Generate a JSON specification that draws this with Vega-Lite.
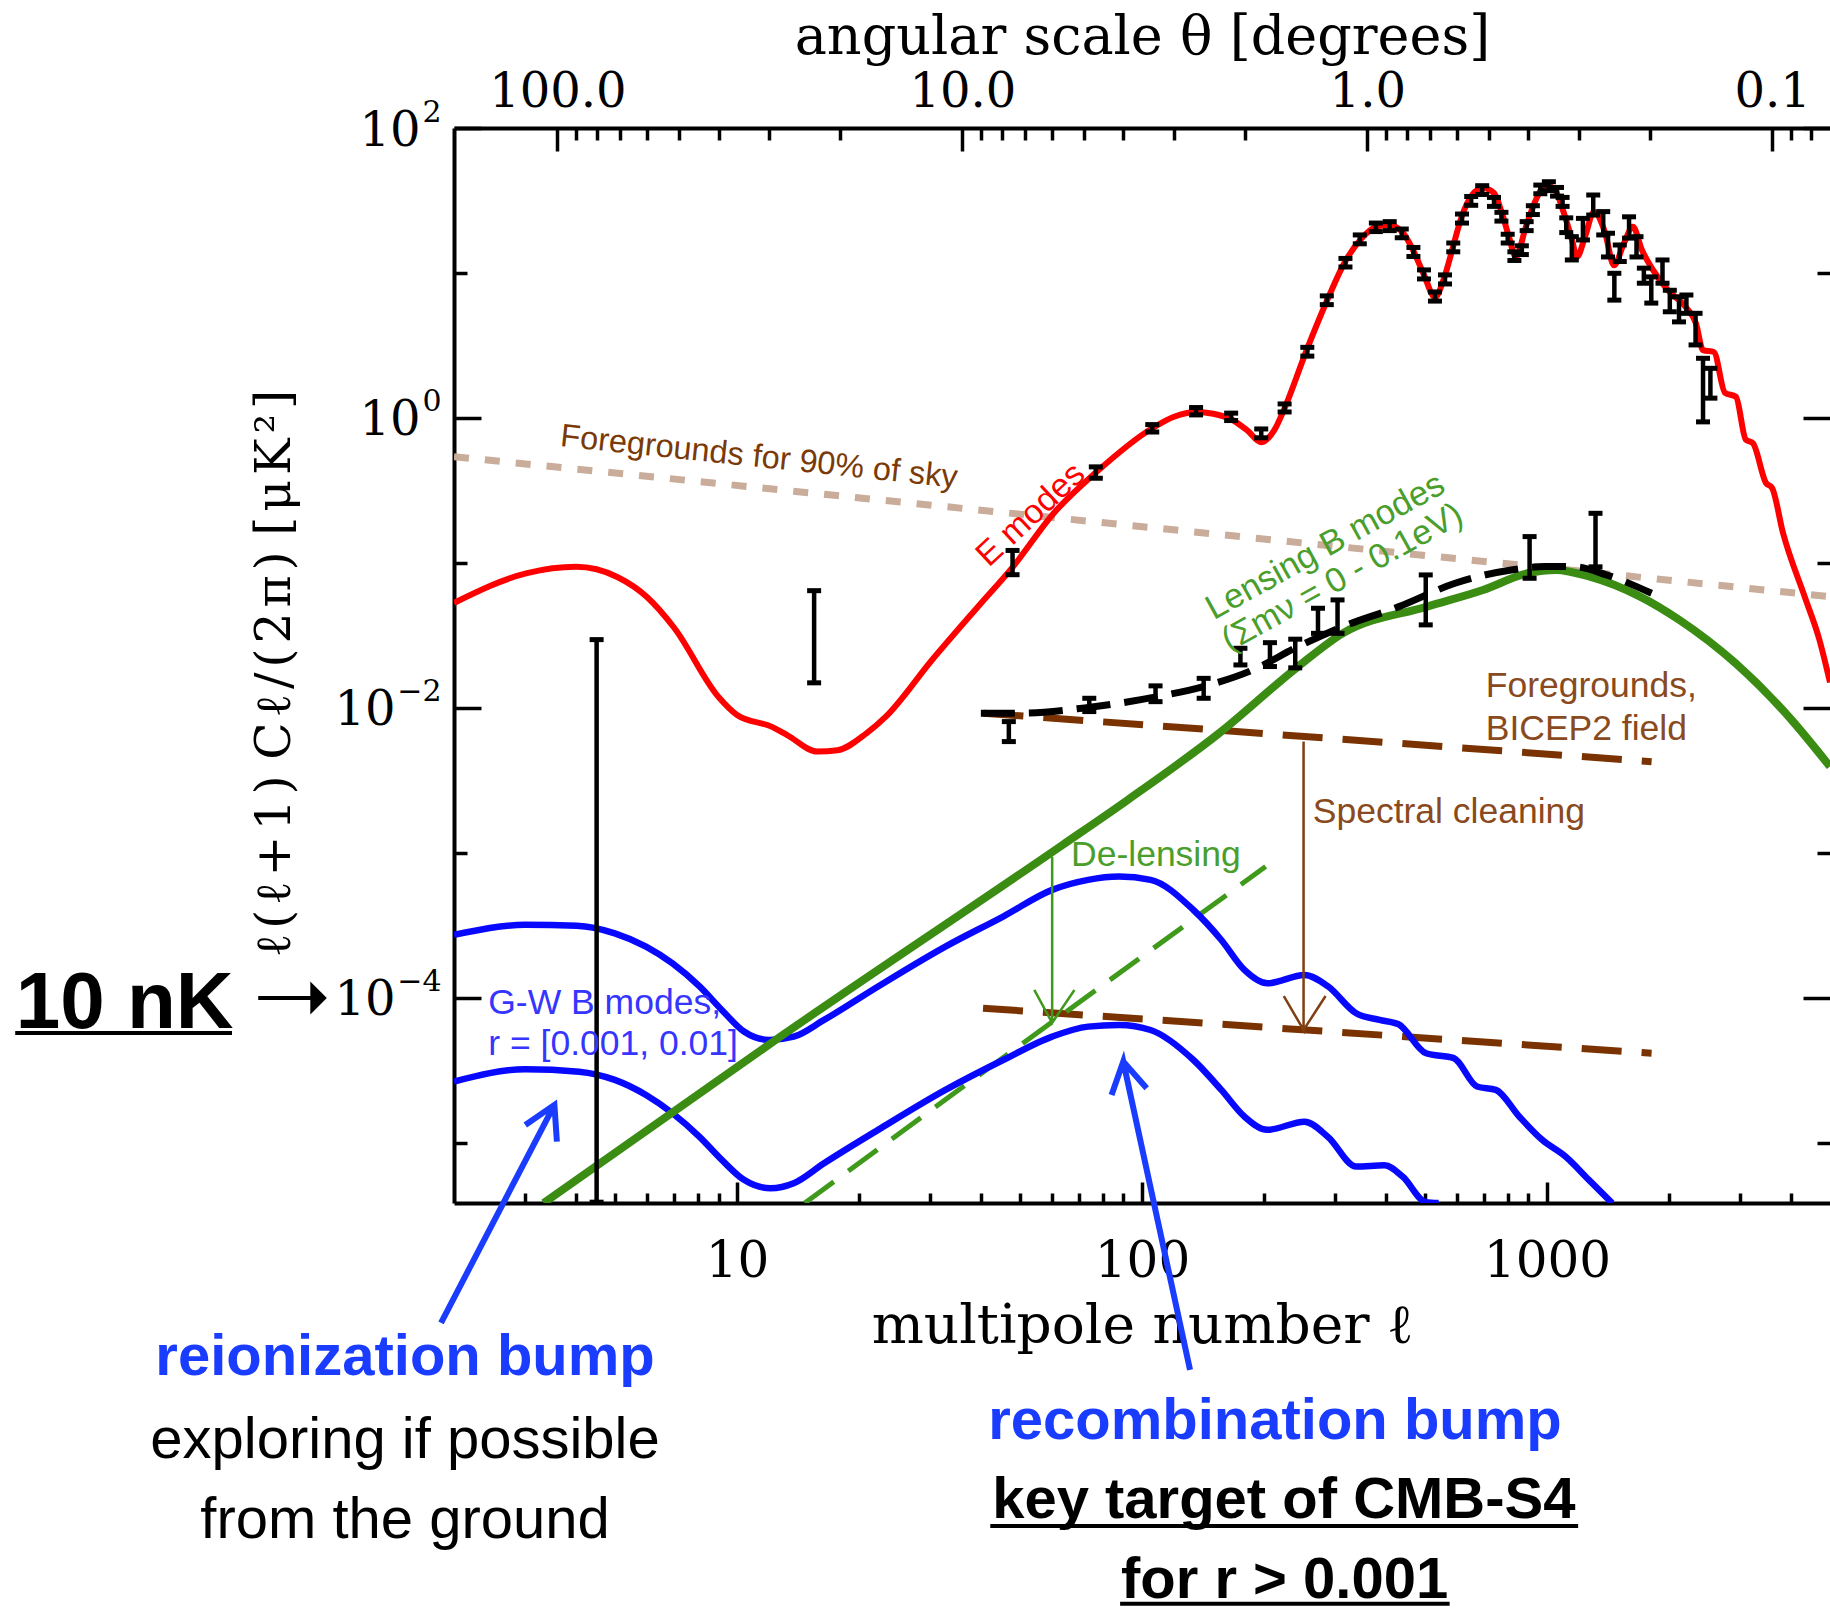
{
"$schema":"https://vega.github.io/schema/vega-lite/v6.json",
"width":1376,"height":1075,
"autosize":{"type":"none"},
"padding":{"left":454,"top":128,"right":0,"bottom":406},
"background":"white",
"config":{"view":{"stroke":null},"axis":{"grid":false}},
"datasets":{
"err":[
{"l":4.5,"lo":3.9e-6,"hi":0.0296},{"l":15.5,"lo":0.0149,"hi":0.0644},{"l":47.9,"lo":0.083,"hi":0.122},{"l":76.9,"lo":0.384,"hi":0.46},
{"l":106,"lo":0.8,"hi":0.9},{"l":136,"lo":1.05,"hi":1.18},{"l":166,"lo":0.96,"hi":1.08},{"l":197,"lo":0.73,"hi":0.84},{"l":225,"lo":1.1,"hi":1.25},
{"l":256,"lo":2.67,"hi":3.07},{"l":286,"lo":6.05,"hi":6.95},{"l":318,"lo":11.0,"hi":12.6},{"l":345,"lo":15.9,"hi":18.3},{"l":378,"lo":19.3,"hi":22.1},
{"l":409,"lo":19.6,"hi":22.6},{"l":438,"lo":17.5,"hi":20.1},{"l":468,"lo":13.0,"hi":15.0},{"l":497,"lo":9.1,"hi":10.5},{"l":529,"lo":6.4,"hi":7.4},
{"l":560,"lo":8.4,"hi":9.7},{"l":587,"lo":14.0,"hi":16.1},{"l":617,"lo":22.1,"hi":25.5},{"l":650,"lo":29.3,"hi":33.7},{"l":692,"lo":34.8,"hi":40.0},
{"l":740,"lo":28.8,"hi":33.2},{"l":772,"lo":22.8,"hi":26.2},{"l":800,"lo":16.1,"hi":18.5},{"l":831,"lo":12.2,"hi":14.0},{"l":867,"lo":13.4,"hi":15.4},
{"l":891,"lo":19.6,"hi":22.6},{"l":923,"lo":25.3,"hi":29.1},{"l":963,"lo":35.2,"hi":40.4},{"l":1011,"lo":37.0,"hi":42.6},{"l":1059,"lo":33.9,"hi":38.9},
{"l":1093,"lo":28.8,"hi":33.2},{"l":1116,"lo":19.0,"hi":24.0},{"l":1152,"lo":12.3,"hi":17.8},{"l":1227,"lo":16.9,"hi":23.8},{"l":1301,"lo":25.1,"hi":34.5},
{"l":1377,"lo":18.3,"hi":26.5},{"l":1415,"lo":12.9,"hi":18.8},{"l":1467,"lo":6.5,"hi":9.95},{"l":1513,"lo":12.0,"hi":15.6},{"l":1595,"lo":17.4,"hi":24.4},
{"l":1664,"lo":12.9,"hi":17.8},{"l":1735,"lo":8.5,"hi":10.8},{"l":1810,"lo":6.2,"hi":9.4},{"l":1929,"lo":8.5,"hi":12.3},{"l":2011,"lo":5.4,"hi":7.6},
{"l":2119,"lo":4.6,"hi":6.85},{"l":2210,"lo":5.27,"hi":7.05},{"l":2328,"lo":3.19,"hi":5.27},{"l":2429,"lo":0.94,"hi":2.58},{"l":2533,"lo":1.37,"hi":2.2},
{"l":46.9,"lo":0.00586,"hi":0.00805},{"l":74.1,"lo":0.00944,"hi":0.01166},{"l":108,"lo":0.01105,"hi":0.0142},{"l":142,"lo":0.01166,"hi":0.016},
{"l":175,"lo":0.0198,"hi":0.0258},{"l":207,"lo":0.0193,"hi":0.0282},{"l":239,"lo":0.0189,"hi":0.0298},{"l":272,"lo":0.0327,"hi":0.0487},
{"l":304,"lo":0.0327,"hi":0.0556},{"l":502,"lo":0.0374,"hi":0.0827},{"l":906,"lo":0.0784,"hi":0.152},{"l":1318,"lo":0.094,"hi":0.22}
]
},
"resolve":{"scale":{"x":"independent","y":"independent"},"axis":{"x":"independent","y":"independent"}},
"layer":[
{"layer":[
{"data":{"values":[{"l":2,"c":0.541},{"l":5000,"c":0.0586}]},
 "mark":{"type":"line","color":"#c9ac99","strokeWidth":7,"strokeDash":[15,16],"clip":true},
 "encoding":{"x":{"field":"l","type":"quantitative","scale":{"type":"log","domain":[2,5000],"nice":false},"axis":null},
  "y":{"field":"c","type":"quantitative","scale":{"type":"log","domain":[3.85e-6,100],"nice":false},"axis":null}}},
{"data":{"values":[{"g":"u","l":40.6,"c":0.0092},{"g":"u","l":1813,"c":0.00426},{"g":"d","l":40.5,"c":8.49e-5},{"g":"d","l":1813,"c":4.15e-5}]},
 "mark":{"type":"line","color":"#7a3300","strokeWidth":7,"strokeDash":[40,20],"clip":true},
 "encoding":{"x":{"field":"l","type":"quantitative","scale":{"type":"log","domain":[2,5000],"nice":false},"axis":null},
  "y":{"field":"c","type":"quantitative","scale":{"type":"log","domain":[3.85e-6,100],"nice":false},"axis":null},"detail":{"field":"g"}}},
{"data":{"values":[{"l":14.7,"c":3.85e-6},{"l":33.5,"c":2.09e-5},{"l":202,"c":0.000805}]},
 "mark":{"type":"line","color":"#3f9a1c","strokeWidth":5,"strokeDash":[36,18],"clip":true},
 "encoding":{"x":{"field":"l","type":"quantitative","scale":{"type":"log","domain":[2,5000],"nice":false},"axis":null},
  "y":{"field":"c","type":"quantitative","scale":{"type":"log","domain":[3.85e-6,100],"nice":false},"axis":null}}},
{"data":{"values":[
 {"g":"a","l":2,"c":2.72e-4},{"g":"a","l":3,"c":3.19e-4},{"g":"a","l":4.02,"c":3.15e-4},{"g":"a","l":4.99,"c":2.79e-4},{"g":"a","l":5.96,"c":2.26e-4},{"g":"a","l":6.93,"c":1.73e-4},{"g":"a","l":8.08,"c":1.2e-4},{"g":"a","l":9.17,"c":8.26e-5},{"g":"a","l":10.4,"c":5.86e-5},{"g":"a","l":12,"c":5.13e-5},{"g":"a","l":13.8,"c":5.4e-5},{"g":"a","l":16.4,"c":7.05e-5},{"g":"a","l":22.3,"c":1.2e-4},{"g":"a","l":32.7,"c":2.26e-4},{"g":"a","l":45.4,"c":3.64e-4},{"g":"a","l":60,"c":5.56e-4},{"g":"a","l":73.6,"c":6.52e-4},{"g":"a","l":87.8,"c":6.87e-4},{"g":"a","l":105,"c":6.52e-4},{"g":"a","l":134,"c":4.04e-4},{"g":"a","l":157,"c":2.51e-4},{"g":"a","l":179,"c":1.56e-4},{"g":"a","l":204,"c":1.26e-4},{"g":"a","l":252,"c":1.44e-4},{"g":"a","l":288,"c":1.2e-4},{"g":"a","l":338,"c":7.84e-5},{"g":"a","l":386,"c":7.05e-5},{"g":"a","l":429,"c":6.6e-5},{"g":"a","l":503,"c":4.15e-5},{"g":"a","l":589,"c":3.84e-5},{"g":"a","l":672,"c":2.45e-5},{"g":"a","l":748,"c":2.32e-5},{"g":"a","l":854,"c":1.52e-5},{"g":"a","l":973,"c":1.05e-5},{"g":"a","l":1111,"c":8.05e-6},{"g":"a","l":1269,"c":5.56e-6},{"g":"a","l":1449,"c":3.84e-6},
 {"g":"b","l":2,"c":2.65e-5},{"g":"b","l":3,"c":3.22e-5},{"g":"b","l":4.07,"c":3.1e-5},{"g":"b","l":4.99,"c":2.72e-5},{"g":"b","l":5.96,"c":2.14e-5},{"g":"b","l":6.93,"c":1.6e-5},{"g":"b","l":8.08,"c":1.1e-5},{"g":"b","l":9.17,"c":7.63e-6},{"g":"b","l":10.4,"c":5.56e-6},{"g":"b","l":12.1,"c":4.87e-6},{"g":"b","l":13.8,"c":5.27e-6},{"g":"b","l":16.4,"c":7.24e-6},{"g":"b","l":22.3,"c":1.23e-5},{"g":"b","l":32.7,"c":2.32e-5},{"g":"b","l":45.4,"c":3.73e-5},{"g":"b","l":60,"c":5.41e-5},{"g":"b","l":73.6,"c":6.34e-5},{"g":"b","l":87.8,"c":6.51e-5},{"g":"b","l":105,"c":6.01e-5},{"g":"b","l":134,"c":3.73e-5},{"g":"b","l":157,"c":2.32e-5},{"g":"b","l":179,"c":1.52e-5},{"g":"b","l":204,"c":1.23e-5},{"g":"b","l":252,"c":1.4e-5},{"g":"b","l":288,"c":1.1e-5},{"g":"b","l":338,"c":6.87e-6},{"g":"b","l":397,"c":7.0e-6},{"g":"b","l":440,"c":5.86e-6},{"g":"b","l":503,"c":3.9e-6},{"g":"b","l":540,"c":3.85e-6}
 ]},
 "mark":{"type":"line","color":"#0808ff","strokeWidth":6.5,"interpolate":"monotone","clip":true},
 "encoding":{"x":{"field":"l","type":"quantitative","scale":{"type":"log","domain":[2,5000],"nice":false},"axis":null},
  "y":{"field":"c","type":"quantitative","scale":{"type":"log","domain":[3.85e-6,100],"nice":false},"axis":null},"detail":{"field":"g"}}},
{"data":{"values":[{"l":3.33,"c":3.85e-6},{"l":12.45,"c":5.13e-5},{"l":63.5,"c":0.00113},{"l":92.2,"c":0.00232},{"l":155,"c":0.00669},{"l":243,"c":0.0193},{"l":313,"c":0.0327},{"l":506,"c":0.05},{"l":695,"c":0.0651},{"l":897,"c":0.0849},{"l":1052,"c":0.0895},{"l":1276,"c":0.0805},{"l":1699,"c":0.0586},{"l":2124,"c":0.0404},{"l":2923,"c":0.0203},{"l":4020,"c":0.00826},{"l":5000,"c":0.00394}]},
 "mark":{"type":"line","color":"#3a8c12","strokeWidth":8,"interpolate":"monotone","clip":true},
 "encoding":{"x":{"field":"l","type":"quantitative","scale":{"type":"log","domain":[2,5000],"nice":false},"axis":null},
  "y":{"field":"c","type":"quantitative","scale":{"type":"log","domain":[3.85e-6,100],"nice":false},"axis":null}}},
{"data":{"values":[{"l":2,"c":0.053},{"l":3.03,"c":0.085},{"l":4,"c":0.094},{"l":5.06,"c":0.08},{"l":6,"c":0.058},{"l":7,"c":0.0356},{"l":9,"c":0.0119},{"l":10,"c":0.00895},{"l":12.2,"c":0.0074},{"l":13.3,"c":0.0065},{"l":15.8,"c":0.005},{"l":17.7,"c":0.0051},{"l":20.9,"c":0.0067},{"l":23.3,"c":0.0087},{"l":30.3,"c":0.0214},{"l":39.3,"c":0.0497},{"l":48,"c":0.094},{"l":60.6,"c":0.221},{"l":76.9,"c":0.42},{"l":106,"c":0.85},{"l":120,"c":1.02},{"l":136,"c":1.1},{"l":150,"c":1.07},{"l":166,"c":0.98},{"l":182,"c":0.82},{"l":197,"c":0.68},{"l":212,"c":0.82},{"l":225,"c":1.17},{"l":255,"c":2.94},{"l":288,"c":6.7},{"l":317,"c":11.9},{"l":347,"c":17.1},{"l":378,"c":20.8},{"l":407,"c":21.4},{"l":439,"c":19.2},{"l":467,"c":14.4},{"l":497,"c":9.7},{"l":529,"c":6.8},{"l":557,"c":9.2},{"l":586,"c":15.1},{"l":614,"c":23.9},{"l":653,"c":34.5},{"l":695,"c":38.6},{"l":740,"c":35.6},{"l":774,"c":25.9},{"l":806,"c":17.7},{"l":838,"c":12.9},{"l":887,"c":20.8},{"l":934,"c":30.9},{"l":994,"c":40.4},{"l":1047,"c":37.3},{"l":1101,"c":25.9},{"l":1153,"c":16.9},{"l":1186,"c":12.9},{"l":1241,"c":17.7},{"l":1306,"c":26.3},{"l":1390,"c":19.2},{"l":1464,"c":11.3},{"l":1549,"c":16},{"l":1630,"c":20.8},{"l":1716,"c":14.4},{"l":1827,"c":10.5},{"l":1990,"c":7.6},{"l":2204,"c":5.8},{"l":2333,"c":4.5},{"l":2428,"c":2.94},{"l":2583,"c":2.85},{"l":2752,"c":1.49},{"l":2929,"c":1.4},{"l":3097,"c":0.71},{"l":3226,"c":0.67},{"l":3475,"c":0.356},{"l":3596,"c":0.33},{"l":3828,"c":0.161},{"l":4335,"c":0.058},{"l":4700,"c":0.03},{"l":5000,"c":0.015}]},
 "mark":{"type":"line","color":"#ff0000","strokeWidth":6,"interpolate":"monotone","clip":true},
 "encoding":{"x":{"field":"l","type":"quantitative","scale":{"type":"log","domain":[2,5000],"nice":false},"axis":null},
  "y":{"field":"c","type":"quantitative","scale":{"type":"log","domain":[3.85e-6,100],"nice":false},"axis":null}}},
{"data":{"values":[{"l":40,"c":0.0092},{"l":50.8,"c":0.0092},{"l":72.2,"c":0.01},{"l":109,"c":0.01197},{"l":141,"c":0.014},{"l":188,"c":0.0183},{"l":243,"c":0.0265},{"l":313,"c":0.0364},{"l":431,"c":0.05},{"l":593,"c":0.0724},{"l":816,"c":0.0895},{"l":989,"c":0.0944},{"l":1159,"c":0.0944},{"l":1403,"c":0.0827},{"l":1813,"c":0.0618}]},
 "mark":{"type":"line","color":"black","strokeWidth":7,"strokeDash":[34,14],"interpolate":"monotone","clip":true},
 "encoding":{"x":{"field":"l","type":"quantitative","scale":{"type":"log","domain":[2,5000],"nice":false},"axis":null},
  "y":{"field":"c","type":"quantitative","scale":{"type":"log","domain":[3.85e-6,100],"nice":false},"axis":null}}},
{"data":{"name":"err"},
 "mark":{"type":"rule","color":"black","strokeWidth":4.5,"clip":true},
 "encoding":{"x":{"field":"l","type":"quantitative","scale":{"type":"log","domain":[2,5000],"nice":false},"axis":null},
  "y":{"field":"lo","type":"quantitative","scale":{"type":"log","domain":[3.85e-6,100],"nice":false},"axis":null},"y2":{"field":"hi"}}},
{"data":{"name":"err"},
 "mark":{"type":"point","shape":"stroke","size":196,"strokeWidth":5,"color":"black","filled":false,"opacity":1,"clip":true},
 "encoding":{"x":{"field":"l","type":"quantitative","scale":{"type":"log","domain":[2,5000],"nice":false},"axis":null},
  "y":{"field":"lo","type":"quantitative","scale":{"type":"log","domain":[3.85e-6,100],"nice":false},"axis":null}}},
{"data":{"name":"err"},
 "mark":{"type":"point","shape":"stroke","size":196,"strokeWidth":5,"color":"black","filled":false,"opacity":1,"clip":true},
 "encoding":{"x":{"field":"l","type":"quantitative","scale":{"type":"log","domain":[2,5000],"nice":false},"axis":null},
  "y":{"field":"hi","type":"quantitative","scale":{"type":"log","domain":[3.85e-6,100],"nice":false},"axis":null}}},
{"data":{"values":[
 {"g":"r","i":0,"l":1.858,"c":5.74e-7},{"g":"r","i":1,"l":3.54,"c":1.83e-5},{"g":"r","i":2,"l":3.0,"c":1.33e-5},{"g":"r","i":3,"l":3.54,"c":1.83e-5},{"g":"r","i":4,"l":3.59,"c":1.02e-5},
 {"g":"k","i":0,"l":131.4,"c":2.72e-7},{"g":"k","i":1,"l":89.9,"c":3.64e-5},{"g":"k","i":2,"l":84.1,"c":2.14e-5},{"g":"k","i":3,"l":89.9,"c":3.64e-5},{"g":"k","i":4,"l":102.7,"c":2.38e-5}]},
 "mark":{"type":"line","color":"#1a3cff","strokeWidth":6},
 "encoding":{"x":{"field":"l","type":"quantitative","scale":{"type":"log","domain":[2,5000],"nice":false},"axis":null},
  "y":{"field":"c","type":"quantitative","scale":{"type":"log","domain":[3.85e-6,100],"nice":false},"axis":null},"detail":{"field":"g"},"order":{"field":"i"}}},
{"data":{"values":[{"i":0,"l":60,"c":0.000942},{"i":1,"l":60,"c":6.73e-5},{"i":2,"l":54.2,"c":0.0001135},{"i":3,"l":60,"c":6.73e-5},{"i":4,"l":68.1,"c":0.0001135}]},
 "mark":{"type":"line","color":"#3f9a1c","strokeWidth":2.5},
 "encoding":{"x":{"field":"l","type":"quantitative","scale":{"type":"log","domain":[2,5000],"nice":false},"axis":null},
  "y":{"field":"c","type":"quantitative","scale":{"type":"log","domain":[3.85e-6,100],"nice":false},"axis":null},"order":{"field":"i"}}},
{"data":{"values":[{"i":0,"l":250.6,"c":0.00586},{"i":1,"l":250.6,"c":6.01e-5},{"i":2,"l":224,"c":0.000103},{"i":3,"l":250.6,"c":6.01e-5},{"i":4,"l":284,"c":0.000103}]},
 "mark":{"type":"line","color":"#7f3f12","strokeWidth":2.5},
 "encoding":{"x":{"field":"l","type":"quantitative","scale":{"type":"log","domain":[2,5000],"nice":false},"axis":null},
  "y":{"field":"c","type":"quantitative","scale":{"type":"log","domain":[3.85e-6,100],"nice":false},"axis":null},"order":{"field":"i"}}},
{"data":{"values":[{"l":0.657,"l2":0.892,"c":0.0001},{"l":0.165,"l2":0.566,"c":5.73e-5},{"l":42.2,"l2":1194,"c":2.28e-8},{"l":88.3,"l2":575,"c":6.62e-9}]},
 "mark":{"type":"rule","color":"black","strokeWidth":4},
 "encoding":{"x":{"field":"l","type":"quantitative","scale":{"type":"log","domain":[2,5000],"nice":false},"axis":null},"x2":{"field":"l2"},
  "y":{"field":"c","type":"quantitative","scale":{"type":"log","domain":[3.85e-6,100],"nice":false},"axis":null}}},
{"data":{"values":[{"l":0.926,"c":0.0001}]},
 "mark":{"type":"point","shape":"M -0.5 -1 L 0.5 0 L -0.5 1 Z","size":1089,"filled":true,"color":"black","opacity":1},
 "encoding":{"x":{"field":"l","type":"quantitative","scale":{"type":"log","domain":[2,5000],"nice":false},"axis":null},
  "y":{"field":"c","type":"quantitative","scale":{"type":"log","domain":[3.85e-6,100],"nice":false},"axis":null}}},
{"data":{"values":[{"txt":"Foregrounds for 90% of sky","l":11.33,"c":0.538}]},
 "mark":{"type":"text","font":"Liberation Sans","fontSize":32.5,"color":"#7a3a08","align":"center","baseline":"middle","angle":6},
 "encoding":{"x":{"field":"l","type":"quantitative","scale":{"type":"log","domain":[2,5000],"nice":false},"axis":null},
  "y":{"field":"c","type":"quantitative","scale":{"type":"log","domain":[3.85e-6,100],"nice":false},"axis":null},"text":{"field":"txt"}}},
{"data":{"values":[{"txt":"E modes","l":53.2,"c":0.214}]},
 "mark":{"type":"text","font":"Liberation Sans","fontSize":34,"color":"#ff0000","align":"center","baseline":"middle","angle":-43},
 "encoding":{"x":{"field":"l","type":"quantitative","scale":{"type":"log","domain":[2,5000],"nice":false},"axis":null},
  "y":{"field":"c","type":"quantitative","scale":{"type":"log","domain":[3.85e-6,100],"nice":false},"axis":null},"text":{"field":"txt"}}},
{"data":{"values":[{"txt":"Lensing B modes","l":284,"c":0.129},{"txt":"(Σmν = 0 - 0.1eV)","l":313,"c":0.0788}]},
 "mark":{"type":"text","font":"Liberation Sans","fontSize":34.5,"color":"#4a9e2c","align":"center","baseline":"middle","angle":-29},
 "encoding":{"x":{"field":"l","type":"quantitative","scale":{"type":"log","domain":[2,5000],"nice":false},"axis":null},
  "y":{"field":"c","type":"quantitative","scale":{"type":"log","domain":[3.85e-6,100],"nice":false},"axis":null},"text":{"field":"txt"}}},
{"data":{"values":[{"txt":"Foregrounds,","l":706,"c":0.0119},{"txt":"BICEP2 field","l":706,"c":0.00601},{"txt":"Spectral cleaning","l":264,"c":0.00161}]},
 "mark":{"type":"text","font":"Liberation Sans","fontSize":35.5,"color":"#8a4a20","align":"left","baseline":"alphabetic"},
 "encoding":{"x":{"field":"l","type":"quantitative","scale":{"type":"log","domain":[2,5000],"nice":false},"axis":null},
  "y":{"field":"c","type":"quantitative","scale":{"type":"log","domain":[3.85e-6,100],"nice":false},"axis":null},"text":{"field":"txt"}}},
{"data":{"values":[{"txt":"De-lensing","l":66.8,"c":0.000813}]},
 "mark":{"type":"text","font":"Liberation Sans","fontSize":35.5,"color":"#4a9e2c","align":"left","baseline":"alphabetic"},
 "encoding":{"x":{"field":"l","type":"quantitative","scale":{"type":"log","domain":[2,5000],"nice":false},"axis":null},
  "y":{"field":"c","type":"quantitative","scale":{"type":"log","domain":[3.85e-6,100],"nice":false},"axis":null},"text":{"field":"txt"}}},
{"data":{"values":[{"txt":"G-W B modes,","l":2.43,"c":7.76e-5},{"txt":"r = [0.001, 0.01]","l":2.43,"c":4.05e-5}]},
 "mark":{"type":"text","font":"Liberation Sans","fontSize":35.5,"color":"#3535ff","align":"left","baseline":"alphabetic"},
 "encoding":{"x":{"field":"l","type":"quantitative","scale":{"type":"log","domain":[2,5000],"nice":false},"axis":null},
  "y":{"field":"c","type":"quantitative","scale":{"type":"log","domain":[3.85e-6,100],"nice":false},"axis":null},"text":{"field":"txt"}}},
{"data":{"values":[{"txt":"10 nK","l":0.3074,"c":6.21e-5}]},
 "mark":{"type":"text","font":"Liberation Sans","fontSize":80,"fontWeight":"bold","color":"black","align":"center","baseline":"alphabetic"},
 "encoding":{"x":{"field":"l","type":"quantitative","scale":{"type":"log","domain":[2,5000],"nice":false},"axis":null},
  "y":{"field":"c","type":"quantitative","scale":{"type":"log","domain":[3.85e-6,100],"nice":false},"axis":null},"text":{"field":"txt"}}},
{"data":{"values":[{"txt":"reionization bump","l":1.514,"c":2.51e-7},{"txt":"recombination bump","l":213,"c":9.1e-8}]},
 "mark":{"type":"text","font":"Liberation Sans","fontSize":58,"fontWeight":"bold","color":"#1a3cff","align":"center","baseline":"alphabetic"},
 "encoding":{"x":{"field":"l","type":"quantitative","scale":{"type":"log","domain":[2,5000],"nice":false},"axis":null},
  "y":{"field":"c","type":"quantitative","scale":{"type":"log","domain":[3.85e-6,100],"nice":false},"axis":null},"text":{"field":"txt"}}},
{"data":{"values":[{"txt":"exploring if possible","l":1.514,"c":6.73e-8},{"txt":"from the ground","l":1.514,"c":1.89e-8}]},
 "mark":{"type":"text","font":"Liberation Sans","fontSize":58,"color":"black","align":"center","baseline":"alphabetic"},
 "encoding":{"x":{"field":"l","type":"quantitative","scale":{"type":"log","domain":[2,5000],"nice":false},"axis":null},
  "y":{"field":"c","type":"quantitative","scale":{"type":"log","domain":[3.85e-6,100],"nice":false},"axis":null},"text":{"field":"txt"}}},
{"data":{"values":[{"txt":"key target of CMB-S4","l":224,"c":2.59e-8},{"txt":"for r > 0.001","l":225,"c":7.28e-9}]},
 "mark":{"type":"text","font":"Liberation Sans","fontSize":58,"fontWeight":"bold","color":"black","align":"center","baseline":"alphabetic"},
 "encoding":{"x":{"field":"l","type":"quantitative","scale":{"type":"log","domain":[2,5000],"nice":false},"axis":null},
  "y":{"field":"c","type":"quantitative","scale":{"type":"log","domain":[3.85e-6,100],"nice":false},"axis":null},"text":{"field":"txt"}}}
]},
{"data":{"values":[{"l":10,"c":1}]},
 "mark":{"type":"point","opacity":0},
 "encoding":{
  "x":{"field":"l","type":"quantitative","scale":{"type":"log","domain":[2,5000],"nice":false},
   "axis":{"orient":"bottom","values":[10,100,1000],"ticks":false,"domain":true,"domainWidth":4,"domainColor":"black","labelExpr":"format(datum.value,'d')","labelFont":"DejaVu Serif","labelFontSize":50,"labelColor":"black","labelPadding":33,"labelFlush":false,"labelOverlap":false,"grid":false,"title":"multipole  number  ℓ","titleFont":"DejaVu Serif","titleFontSize":55,"titleFontWeight":"normal","titleColor":"black","titlePadding":13}},
  "y":{"field":"c","type":"quantitative","scale":{"type":"log","domain":[3.85e-6,100],"nice":false},
   "axis":{"orient":"left","values":[100,1,0.01,0.0001],"ticks":false,"domain":true,"domainWidth":4,"domainColor":"black","labelExpr":"'10'","labelFont":"DejaVu Serif","labelFontSize":48,"labelColor":"black","labelAlign":"right","labelBaseline":"middle","labelOffset":3,"labelPadding":{"condition":{"test":"datum.value < 0.1","value":59},"value":34},"labelOverlap":false,"labelFlush":false,"grid":false,"title":"ℓ\u200A(\u200Aℓ\u200A+\u200A1\u200A)   C\u200Aℓ\u200A/\u200A(\u200A2\u200Aπ\u200A)   [\u200Aμ\u200AK\u200A²\u200A]","titleFont":"DejaVu Serif","titleFontSize":49,"titleFontWeight":"normal","titleColor":"black","titlePadding":34,"titleY":545}}}},
{"data":{"values":[{"l":10,"c":1}]},
 "mark":{"type":"point","opacity":0},
 "encoding":{
  "x":{"field":"l","type":"quantitative","scale":{"type":"log","domain":[2,5000],"nice":false},
   "axis":{"orient":"bottom","values":[10,100,1000],"ticks":true,"tickSize":-21,"tickWidth":3.5,"tickColor":"black","labels":false,"domain":false,"grid":false,"title":null}},
  "y":{"field":"c","type":"quantitative","scale":{"type":"log","domain":[3.85e-6,100],"nice":false},
   "axis":{"orient":"left","values":[100,1,0.01,0.0001],"ticks":true,"tickSize":-27,"tickWidth":3.5,"tickColor":"black","labels":false,"domain":false,"grid":false,"title":null}}}},
{"data":{"values":[{"l":10,"c":1}]},
 "mark":{"type":"point","opacity":0},
 "encoding":{
  "x":{"field":"l","type":"quantitative","scale":{"type":"log","domain":[2,5000],"nice":false},
   "axis":{"orient":"bottom","values":[3,4,5,6,7,8,9,20,30,40,50,60,70,80,90,200,300,400,500,600,700,800,900,2000,3000,4000],"ticks":true,"tickSize":-10,"tickWidth":3.5,"tickColor":"black","labels":false,"domain":false,"grid":false,"title":null}},
  "y":{"field":"c","type":"quantitative","scale":{"type":"log","domain":[3.85e-6,100],"nice":false},
   "axis":{"orient":"left","values":[10,0.1,0.001,0.00001],"ticks":true,"tickSize":-13,"tickWidth":3.5,"tickColor":"black","labels":false,"domain":false,"grid":false,"title":null}}}},
{"data":{"values":[{"t":10,"c":1}]},
 "mark":{"type":"point","opacity":0},
 "encoding":{
  "x":{"field":"t","type":"quantitative","scale":{"type":"log","domain":[0.072,180],"reverse":true,"nice":false},
   "axis":{"orient":"top","values":[100,10,1,0.1],"ticks":false,"domain":true,"domainWidth":4,"domainColor":"black","labelExpr":"datum.value >= 1 ? format(datum.value,'.1f') : '0.1'","labelFont":"DejaVu Serif","labelFontSize":48,"labelColor":"black","labelPadding":12,"labelFlush":false,"labelOverlap":false,"grid":false,"title":"angular  scale  θ  [degrees]","titleFont":"DejaVu Serif","titleFontSize":54,"titleFontWeight":"normal","titleColor":"black","titlePadding":4}},
  "y":{"field":"c","type":"quantitative","scale":{"type":"log","domain":[3.85e-6,100],"nice":false},
   "axis":{"orient":"right","values":[100,1,0.01,0.0001],"ticks":true,"tickSize":-27,"tickWidth":3.5,"tickColor":"black","labels":false,"domain":false,"grid":false,"title":null}}}},
{"data":{"values":[{"t":10,"c":1}]},
 "mark":{"type":"point","opacity":0},
 "encoding":{
  "x":{"field":"t","type":"quantitative","scale":{"type":"log","domain":[0.072,180],"reverse":true,"nice":false},
   "axis":{"orient":"top","values":[100,10,1,0.1],"ticks":true,"tickSize":-23,"tickWidth":3.5,"tickColor":"black","labels":false,"domain":false,"grid":false,"title":null}},
  "y":{"field":"c","type":"quantitative","scale":{"type":"log","domain":[3.85e-6,100],"nice":false},
   "axis":{"orient":"right","values":[10,0.1,0.001,0.00001],"ticks":true,"tickSize":-13,"tickWidth":3.5,"tickColor":"black","labels":false,"domain":false,"grid":false,"title":null}}}},
{"data":{"values":[{"t":10,"c":1}]},
 "mark":{"type":"point","opacity":0},
 "encoding":{
  "x":{"field":"t","type":"quantitative","scale":{"type":"log","domain":[0.072,180],"reverse":true,"nice":false},
   "axis":{"orient":"top","values":[90,80,70,60,50,40,30,20,9,8,7,6,5,4,3,2,0.9,0.8,0.7,0.6,0.5,0.4,0.3,0.2,0.09,0.08],"ticks":true,"tickSize":-12,"tickWidth":3.5,"tickColor":"black","labels":false,"domain":false,"grid":false,"title":null}},
  "y":{"field":"c","type":"quantitative","scale":{"type":"log","domain":[3.85e-6,100],"nice":false},
   "axis":{"orient":"left","values":[100,1,0.01,0.0001],"ticks":false,"domain":false,"grid":false,"title":null,"labelExpr":"datum.value > 10 ? '2' : datum.value > 0.1 ? '0' : datum.value > 0.001 ? '−2' : '−4'","labelFont":"DejaVu Serif","labelFontSize":30,"labelColor":"black","labelAlign":"right","labelBaseline":"middle","labelPadding":13,"labelOffset":-16,"labelOverlap":false,"labelFlush":false}}}}
]
}
